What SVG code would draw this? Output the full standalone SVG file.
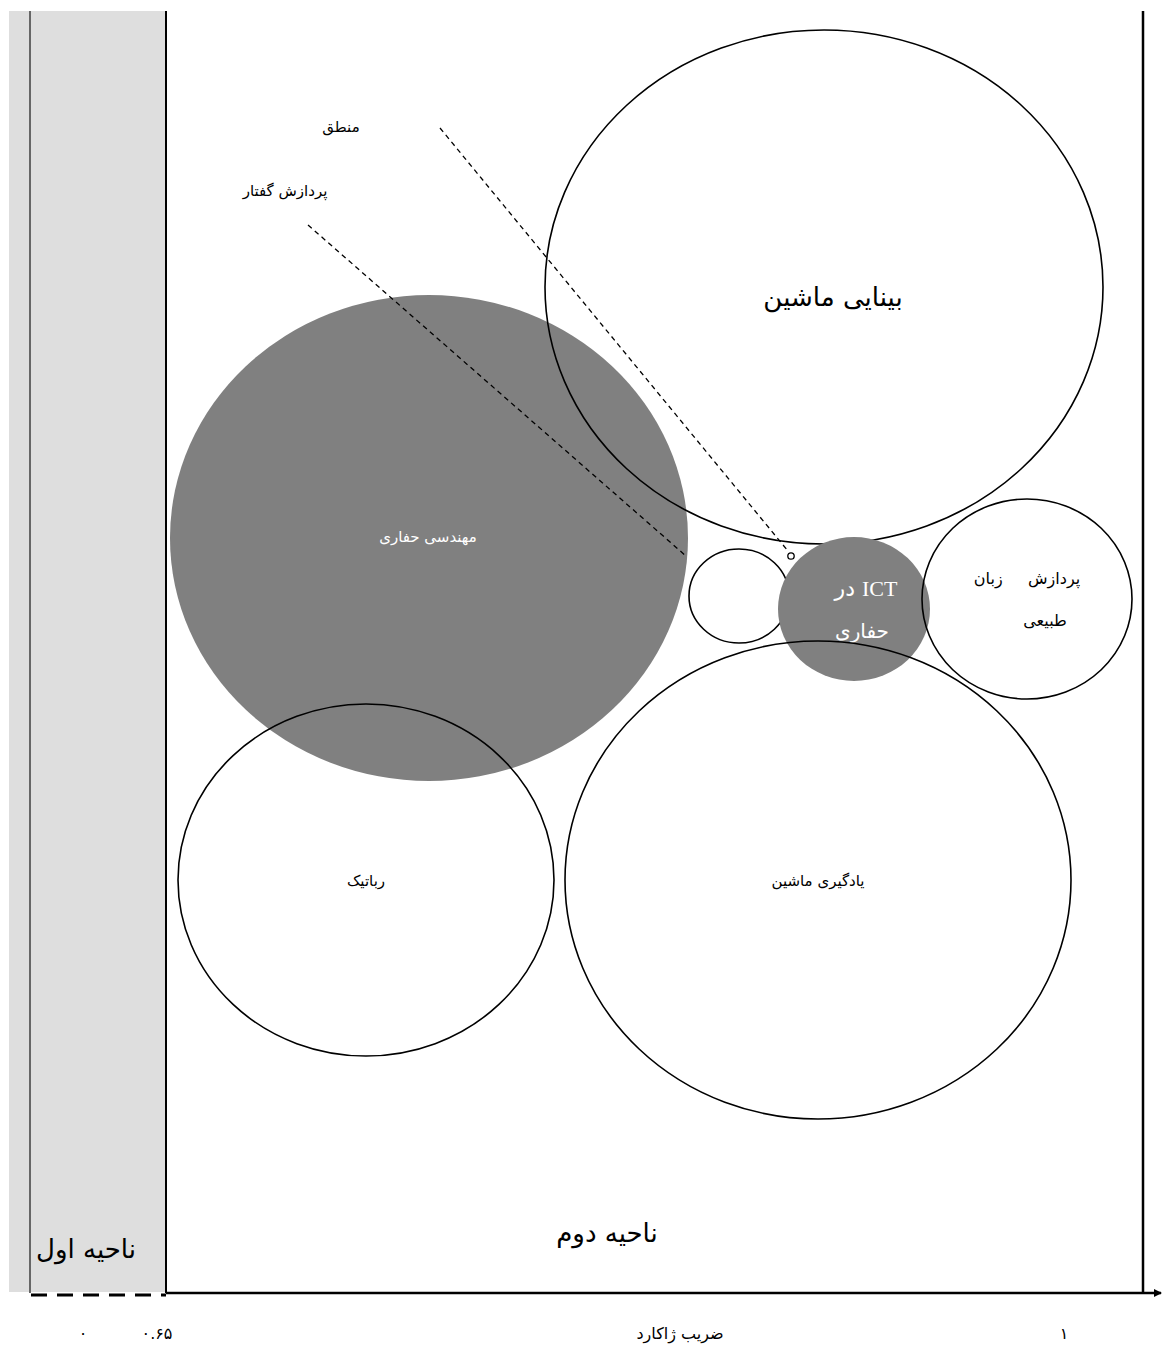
<svg xmlns="http://www.w3.org/2000/svg" width="1163" height="1345" viewBox="0 0 1163 1345">
<style>
.t{font-family:"DejaVu Sans","Noto Sans",sans-serif;fill:#000;text-anchor:middle}
.w{fill:#fff}
.s{font-family:"Liberation Serif","DejaVu Serif",serif}
.c{fill:none;stroke:#000;stroke-width:1.6}
.g{fill:#808080;stroke:none}
.d{fill:none;stroke:#000;stroke-width:1.3;stroke-dasharray:5 4}
</style>
<defs>
<marker id="ar" markerWidth="8" markerHeight="8" refX="7" refY="4" orient="auto" markerUnits="userSpaceOnUse">
<path d="M0,0 L8,4 L0,8 Z" fill="#000"/>
</marker>
</defs>
<g id="zone1">
<rect x="9" y="11" width="157" height="1281" fill="#dedede"/>
<line x1="30" y1="11" x2="30" y2="1293" stroke="#666" stroke-width="2"/>
<line x1="166" y1="11" x2="166" y2="1293" stroke="#000" stroke-width="2"/>
<line x1="31" y1="1295" x2="166" y2="1295" stroke="#000" stroke-width="3" stroke-dasharray="16 10"/>
<text class="t" x="86" y="1258" font-size="26">ناحیه اول</text>
</g>
<g id="axes">
<line x1="166" y1="1293" x2="1161" y2="1293" stroke="#000" stroke-width="2.5" marker-end="url(#ar)"/>
<line x1="1143" y1="11" x2="1143" y2="1293" stroke="#000" stroke-width="2.5"/>
<text class="t" x="607" y="1242" font-size="26">ناحیه دوم</text>
<text class="t" x="680" y="1339" font-size="16">ضریب ژاکارد</text>
<text class="t" x="1064" y="1339" font-size="16">۱</text>
<text class="t" x="83" y="1339" font-size="16">۰</text>
<text class="t" x="157" y="1339" font-size="16" direction="ltr">۰.۶۵</text>
</g>
<g id="n-drilling"><ellipse class="g" cx="429" cy="538" rx="259" ry="243"/><text class="t w" x="428" y="542" font-size="15">مهندسی حفاری</text></g>
<g id="n-vision"><ellipse class="c" cx="824" cy="287" rx="279" ry="257"/><text class="t" x="833" y="306" font-size="26">بینایی ماشین</text></g>
<g id="n-small"><ellipse class="c" cx="739" cy="596" rx="50" ry="47"/></g>
<g id="n-ict"><ellipse class="g" cx="854" cy="609" rx="76" ry="72"/>
<text class="t w" x="866" y="596" font-size="22" direction="rtl" unicode-bidi="embed"><tspan class="s">ICT</tspan> در</text>
<text class="t w" x="862" y="638" font-size="20">حفاری</text></g>
<g id="n-nlp"><ellipse class="c" cx="1027" cy="599" rx="105" ry="100"/>
<text class="t" x="1027" y="584" font-size="16" xml:space="preserve">پردازش     زبان</text>
<text class="t" x="1045" y="626" font-size="16">طبیعی</text></g>
<g id="n-robotics"><ellipse class="c" cx="366" cy="880" rx="188" ry="176"/><text class="t" x="366" y="886" font-size="15">رباتیک</text></g>
<g id="n-ml"><ellipse class="c" cx="818" cy="880" rx="253" ry="239"/><text class="t" x="818" y="886" font-size="15">یادگیری ماشین</text></g>
<g id="connectors">
<line class="d" x1="440" y1="128" x2="788" y2="551"/>
<circle cx="791" cy="556" r="3.2" fill="#fff" stroke="#000" stroke-width="1.3"/>
<line class="d" x1="308" y1="225" x2="686" y2="556"/>
<text class="t" x="341" y="132" font-size="15">منطق</text>
<text class="t" x="285" y="196" font-size="15">پردازش گفتار</text>
</g>
</svg>
